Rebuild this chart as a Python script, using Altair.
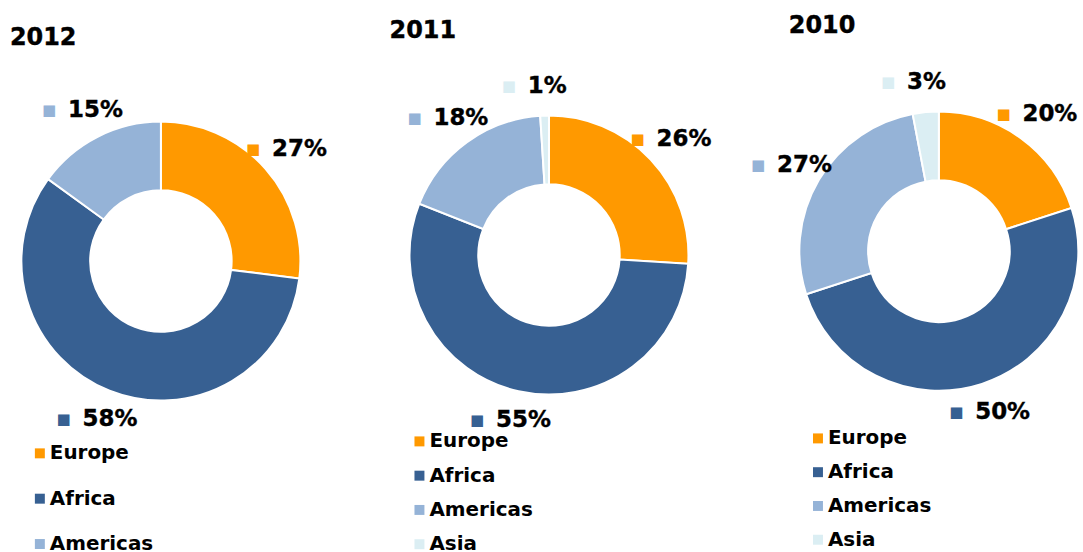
import altair as alt
import pandas as pd

regions = ["Europe", "Africa", "Americas", "Asia"]
colors = ["#FF9900", "#376092", "#95B3D7", "#DBEEF3"]
years = ["2012", "2011", "2010"]
share_2012 = [27, 58, 15]
share_2011 = [26, 55, 18, 1]
share_2010 = [20, 50, 27, 3]

FONT = "DejaVu Sans"
PW, PH = 361, 552
LABEL_R = 170


def panel(year, shares, cx, cy, title_x, title_y, leg_x, leg_y, row_pad):
    n = len(shares)
    df = pd.DataFrame({
        "region": regions[:n],
        "share": shares,
        "idx": list(range(n)),
        "label": [f"{s}%" for s in shares],
    })
    color = alt.Color(
        "region:N",
        scale=alt.Scale(domain=regions[:n], range=colors[:n]),
        legend=alt.Legend(
            orient="none", legendX=leg_x, legendY=leg_y, title=None,
            symbolType="square", symbolSize=100, symbolStrokeWidth=0,
            labelFont=FONT, labelFontSize=20, labelFontWeight="bold",
            labelColor="black", rowPadding=row_pad, labelOffset=0,
            padding=0, direction="vertical",
        ),
    )
    base = alt.Chart(df).encode(
        theta=alt.Theta("share:Q", stack=True),
        order=alt.Order("idx:Q"),
        x=alt.value(cx),
        y=alt.value(cy),
    )
    arc = base.mark_arc(innerRadius=71, outerRadius=140, stroke="white",
                        strokeWidth=2).encode(color=color)
    sq = base.mark_text(radius=LABEL_R, dx=-35, font=FONT, fontSize=15,
                        baseline="middle").encode(text=alt.value("■"), color=color)
    pct = base.mark_text(radius=LABEL_R, dx=-16, align="left", baseline="middle",
                         font=FONT, fontSize=23, fontWeight="bold",
                         color="black", stroke="black", strokeWidth=0.4
                         ).encode(text="label:N")
    title = alt.Chart(pd.DataFrame({"t": [year]})).mark_text(
        align="left", baseline="middle", font=FONT, fontSize=24,
        fontWeight="bold", color="black", stroke="black", strokeWidth=0.4
    ).encode(text="t:N", x=alt.value(title_x), y=alt.value(title_y))
    return alt.layer(arc, sq, pct, title).properties(width=PW, height=PH)


p1 = panel(years[0], share_2012, 161.5, 261, 10, 37, 30, 444, 25.5)
p2 = panel(years[1], share_2011, 190, 255, 30, 30, 50, 432, 14.4)
p3 = panel(years[2], share_2010, 220.3, 251, 69.7, 25.5, 89, 429, 13.9)

chart = alt.hconcat(p1, p2, p3, spacing=0, bounds="flush").resolve_scale(
    color="independent", theta="independent"
).properties(
    padding=0
).configure_view(stroke=None)

chart.save("out.html", embed_options={"renderer": "svg", "actions": False})
